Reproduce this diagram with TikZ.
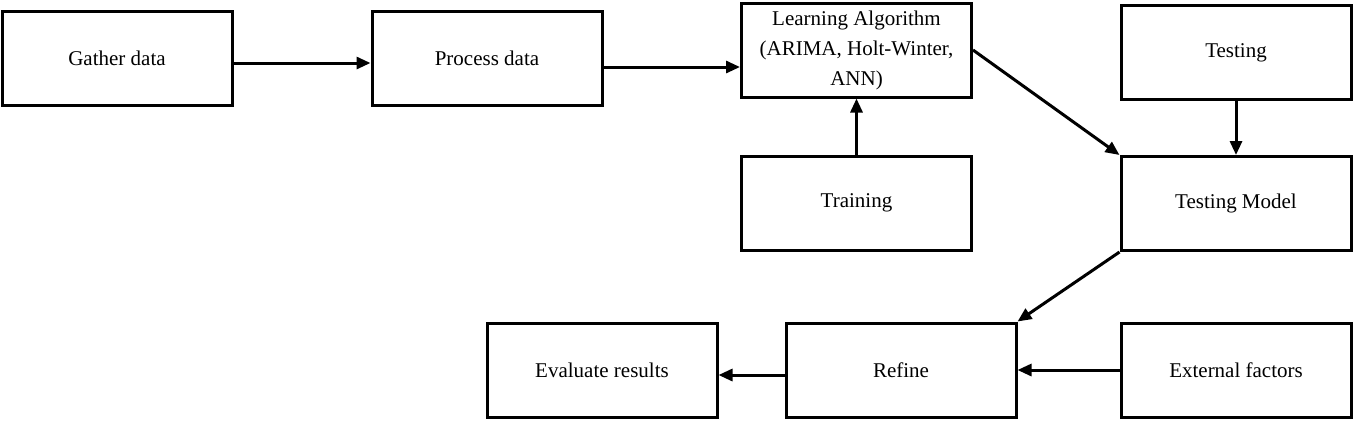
\documentclass[tikz,border=0pt]{standalone}
\usepackage{fontspec}
\setmainfont{Liberation Serif}
\usetikzlibrary{arrows.meta,positioning}

\begin{document}
\begin{tikzpicture}[x=0.5pt, y=-0.5pt,
            every node/.style={draw, line width=1.5pt, rectangle,
                minimum width=115pt, minimum height=47pt,
                align=center, font=\fontsize{10.5}{15}\selectfont},
            flow/.style={line width=1.5pt, -{Triangle[length=7pt, width=6pt]}},
            ]
            \useasboundingbox (0,0) rectangle (1353,420);

            % top row
            \node (gather)   at (117,58)    {Gather data};
            \node (process)  at (487,58)    {Process data};
            \node (learn)    at (856.5,50)  {Learning Algorithm\\(ARIMA, Holt-Winter,\\ANN)};
            \node (testing)  at (1236,52.5) {Testing};

            % middle row
            \node (training) at (856.5,203) {Training};
            \node (tmodel)   at (1236,203.5) {Testing Model};

            % bottom row
            \node (evaluate) at (602,370)   {Evaluate results};
            \node (refine)   at (901,370)   {Refine};
            \node (external) at (1236,370)  {External factors};

            \draw[flow] ([yshift=-2.5pt]gather.east) -- ([yshift=-2.5pt]process.west);
            \draw[flow] ([yshift=-4.5pt]process.east) -- ([yshift=-8.5pt]learn.west);
            \draw[flow] (training.north) -- (learn.south);
            \draw[flow] (learn.east) -- (tmodel.north west);
            \draw[flow] (testing.south) -- (tmodel.north);
            \draw[flow] (tmodel.south west) -- (refine.north east);
            \draw[flow] (external.west) -- (refine.east);
            \draw[flow] ([yshift=-2.5pt]refine.west) -- ([yshift=-2.5pt]evaluate.east);
\end{tikzpicture}
\end{document}
